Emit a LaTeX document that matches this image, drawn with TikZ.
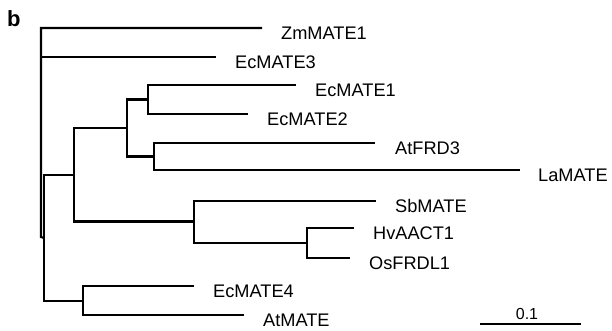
\documentclass[tikz,border=0pt]{standalone}
\usepackage{fontspec}
\setmainfont{Liberation Sans}
\begin{document}
\begin{tikzpicture}[x=1pt,y=-1pt,
  br/.style={line width=2.1pt},
  lab/.style={anchor=base west,inner sep=0pt,font=\fontsize{18.2}{20}\selectfont},
  scl/.style={anchor=base,inner sep=0pt,font=\fontsize{16}{18}\selectfont}]
\useasboundingbox (0,0) rectangle (612,330);
\node[anchor=base west,inner sep=0pt,font=\fontsize{22}{24}\selectfont\bfseries] (b) at (7,26) {b};
% tips
\coordinate (tZm) at (262,28);
\coordinate (t3) at (216,57);
\coordinate (tE1) at (296,85);
\coordinate (tE2) at (248,114);
\coordinate (tFRD) at (375,143);
\coordinate (tLa) at (520,170);
\coordinate (tSb) at (376,201);
\coordinate (tHv) at (354,228);
\coordinate (tOs) at (350,258);
\coordinate (tE4) at (194,286);
\coordinate (tAt) at (244,315);
% internal nodes
\coordinate (r) at (41,237);
\coordinate (n44) at (44,238);
\coordinate (n74) at (74,175);
\coordinate (n83) at (83,301);
\coordinate (n127) at (127,128);
\coordinate (n148) at (148,99.5);
\coordinate (n154) at (154,156.5);
\coordinate (n194) at (194,221.5);
\coordinate (n307) at (307,243);
% labels
\node[lab] (lZm) at ([xshift=19pt,yshift=-11.5pt]tZm) {ZmMATE1};
\node[lab] (l3) at ([xshift=19pt,yshift=-11.5pt]t3) {EcMATE3};
\node[lab] (lE1) at ([xshift=19pt,yshift=-11.5pt]tE1) {EcMATE1};
\node[lab] (lE2) at ([xshift=19pt,yshift=-11.5pt]tE2) {EcMATE2};
\node[lab] (lFRD) at ([xshift=20pt,yshift=-11.5pt]tFRD) {AtFRD3};
\node[lab] (lLa) at ([xshift=18pt,yshift=-11.5pt]tLa) {LaMATE};
\node[lab] (lSb) at ([xshift=19pt,yshift=-11.5pt]tSb) {SbMATE};
\node[lab] (lHv) at ([xshift=19pt,yshift=-11.5pt]tHv) {HvAACT1};
\node[lab] (lOs) at ([xshift=19pt,yshift=-11.5pt]tOs) {OsFRDL1};
\node[lab] (lE4) at ([xshift=19pt,yshift=-11.5pt]tE4) {EcMATE4};
\node[lab] (lAt) at ([xshift=19pt,yshift=-11.5pt]tAt) {AtMATE};
% branches
\draw[br] (tZm) -| (r) -- (n44);
\draw[br] (r |- t3) -- (t3);
\draw[br] (n74) -| (n44) |- (n83);
\draw[br] (n127) -| (n74) |- (n194);
\draw[br] (n148) -| (n127) |- (n154);
\draw[br] (tE1) -| (n148) |- (tE2);
\draw[br] (tFRD) -| (n154) |- (tLa);
\draw[br] (tSb) -| (n194) |- (n307);
\draw[br] (tHv) -| (n307) |- (tOs);
\draw[br] (tE4) -| (n83) |- (tAt);
% scale bar
\coordinate (s1) at (480,324);
\coordinate (s2) at (581,324);
\draw[br] (s1) -- (s2);
\node[scl] (sl) at (527,319) {0.1};
\end{tikzpicture}
\end{document}
